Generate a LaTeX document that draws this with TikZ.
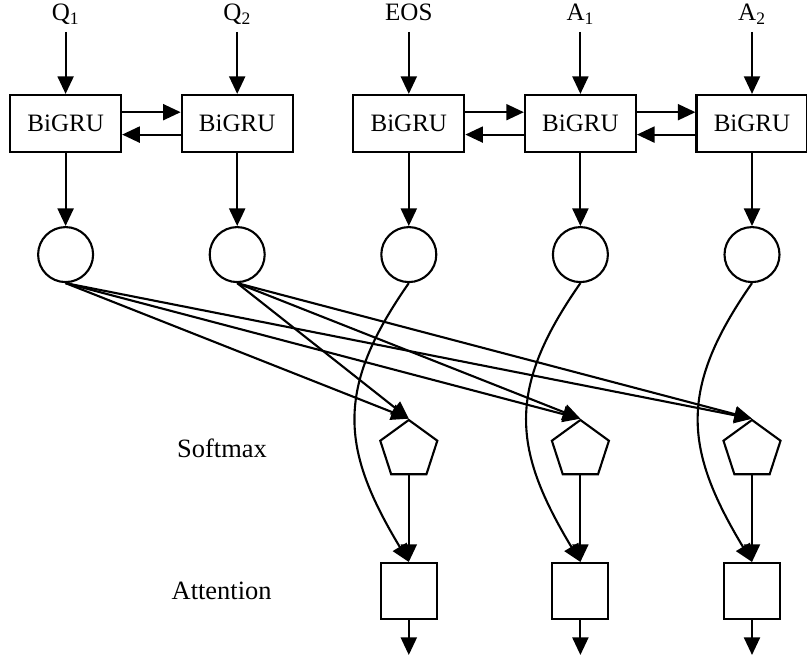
\documentclass[tikz,border=0pt]{standalone}
\usepackage{fontspec}
\setmainfont{Liberation Serif}
\usetikzlibrary{arrows.meta,shapes.geometric}

\begin{document}
\begin{tikzpicture}[>={Triangle[length=0.44cm,width=0.4cm]},
 font=\fontsize{17.8}{20}\selectfont,
 gru/.style={draw,line width=1.5pt,minimum width=2.775cm,minimum height=1.42cm,inner sep=0pt},
 inp/.style={anchor=south,inner sep=0pt,text height=0.42cm,text depth=0.27cm},
 hid/.style={draw,line width=1.5pt,circle,minimum size=1.375cm,inner sep=0pt},
 soft/.style={draw,line width=1.5pt,regular polygon,regular polygon sides=5,minimum size=1.5cm,inner sep=0pt},
 att/.style={draw,line width=1.5pt,minimum size=1.4cm,inner sep=0pt},
 tag/.style={font=\fontsize{18.8}{21}\selectfont},
 flow/.style={->,line width=1.5pt}]
\useasboundingbox (0,0) rectangle (20.175,16.525);
\node[inp] (q1) at (1.64,15.725) {Q\textsubscript{1}};
\node[inp] (q2) at (5.93,15.725) {Q\textsubscript{2}};
\node[inp] (eos) at (10.22,15.725) {EOS};
\node[inp] (a1in) at (14.51,15.725) {A\textsubscript{1}};
\node[inp] (a2in) at (18.8,15.725) {A\textsubscript{2}};
\node[gru] (g1) at (1.64,13.44) {BiGRU};
\node[gru] (g2) at (5.93,13.44) {BiGRU};
\node[gru] (g3) at (10.22,13.44) {BiGRU};
\node[gru] (g4) at (14.51,13.44) {BiGRU};
\node[gru] (g5) at (18.8,13.44) {BiGRU};
\node[hid] (h1) at (1.64,10.16) {};
\node[hid] (h2) at (5.93,10.16) {};
\node[hid] (h3) at (10.22,10.16) {};
\node[hid] (h4) at (14.51,10.16) {};
\node[hid] (h5) at (18.8,10.16) {};
\node[soft] (s1) at (10.22,5.275) {};
\node[soft] (s2) at (14.51,5.275) {};
\node[soft] (s3) at (18.8,5.275) {};
\node[att] (a1) at (10.22,1.75) {};
\node[att] (a2) at (14.51,1.75) {};
\node[att] (a3) at (18.8,1.75) {};
\coordinate (o1) at (10.22,0.15);
\coordinate (o2) at (14.51,0.15);
\coordinate (o3) at (18.8,0.15);
\node[tag] (softlab) at (5.55,5.325) {Softmax};
\node[tag] (attlab) at (5.54,1.75) {Attention};
\draw[flow] (q1) -- (g1);
\draw[flow] (q2) -- (g2);
\draw[flow] (eos) -- (g3);
\draw[flow] (a1in) -- (g4);
\draw[flow] (a2in) -- (g5);
\draw[flow] ([yshift=0.28cm]g1.east) -- ([yshift=0.28cm]g2.west);
\draw[flow] ([yshift=-0.28cm]g2.west) -- ([yshift=-0.28cm]g1.east);
\draw[flow] ([yshift=0.28cm]g3.east) -- ([yshift=0.28cm]g4.west);
\draw[flow] ([yshift=-0.28cm]g4.west) -- ([yshift=-0.28cm]g3.east);
\draw[flow] ([yshift=0.28cm]g4.east) -- ([yshift=0.28cm]g5.west);
\draw[flow] ([yshift=-0.28cm]g5.west) -- ([yshift=-0.28cm]g4.east);
\draw[flow] (g1) -- (h1);
\draw[flow] (g2) -- (h2);
\draw[flow] (g3) -- (h3);
\draw[flow] (g4) -- (h4);
\draw[flow] (g5) -- (h5);
\draw[flow] (h1.south) -- (s1.north);
\draw[flow] (h1.south) -- (s2.north);
\draw[flow] (h1.south) -- (s3.north);
\draw[flow] (h2.south) -- (s1.north);
\draw[flow] (h2.south) -- (s2.north);
\draw[flow] (h2.south) -- (s3.north);
\draw[flow] (h3.south) to[out=-125,in=121,looseness=1.2] (a1.north);
\draw[flow] (h4.south) to[out=-125,in=121,looseness=1.2] (a2.north);
\draw[flow] (h5.south) to[out=-125,in=121,looseness=1.2] (a3.north);
\draw[flow] (s1) -- (a1);
\draw[flow] (s2) -- (a2);
\draw[flow] (s3) -- (a3);
\draw[flow] (a1) -- (o1);
\draw[flow] (a2) -- (o2);
\draw[flow] (a3) -- (o3);
\end{tikzpicture}
\end{document}
